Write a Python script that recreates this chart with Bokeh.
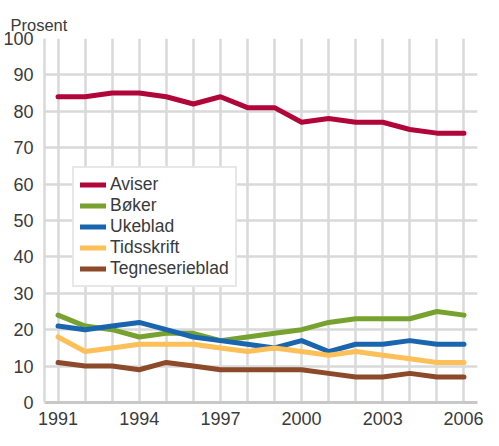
from bokeh.plotting import figure
from bokeh.models import Range1d, FixedTicker, Legend, LegendItem
from bokeh.embed import file_html
from bokeh.resources import INLINE

years = list(range(1991, 2007))
aviser = [84, 84, 85, 85, 84, 82, 84, 81, 81, 77, 78, 77, 77, 75, 74, 74]
boker = [24, 21, 20, 18, 19, 19, 17, 18, 19, 20, 22, 23, 23, 23, 25, 24]
ukeblad = [21, 20, 21, 22, 20, 18, 17, 16, 15, 17, 14, 16, 16, 17, 16, 16]
tidsskrift = [18, 14, 15, 16, 16, 16, 15, 14, 15, 14, 13, 14, 13, 12, 11, 11]
tegneserieblad = [11, 10, 10, 9, 11, 10, 9, 9, 9, 9, 8, 7, 7, 8, 7, 7]

series_names = ["Aviser", "Bøker", "Ukeblad", "Tidsskrift", "Tegneserieblad"]
series_values = [aviser, boker, ukeblad, tidsskrift, tegneserieblad]
colors = ["#b0063a", "#78a22f", "#1a66ae", "#fdbf57", "#8c4a2b"]

x_ticks = [1991, 1994, 1997, 2000, 2003, 2006]
y_ticks = list(range(0, 101, 10))

FONT = "Liberation Sans"
TXT = "#3a3a3a"
GRID = "#d9d9d9"

p = figure(width=483, height=430, output_backend="svg", toolbar_location=None,
           x_range=Range1d(1990.5, 2006.5), y_range=Range1d(0, 100),
           min_border_left=42, min_border_right=6, min_border_top=38, min_border_bottom=28)
p.outline_line_color = None
p.background_fill_color = "white"
p.border_fill_color = "white"

p.title.text = "Prosent"
p.title.align = "left"
p.title.offset = -34
p.title.text_font = FONT
p.title.text_font_size = "16.5px"
p.title.text_font_style = "normal"
p.title.text_color = TXT
p.title.standoff = 9

p.xaxis.ticker = FixedTicker(ticks=x_ticks)
p.yaxis.ticker = FixedTicker(ticks=y_ticks)
p.xgrid.ticker = FixedTicker(ticks=years)
p.ygrid.ticker = FixedTicker(ticks=y_ticks)
p.grid.grid_line_color = GRID
p.grid.grid_line_width = 2.5

for ax in (p.xaxis, p.yaxis):
    ax.major_label_text_font = FONT
    ax.major_label_text_font_size = "18px"
    ax.major_label_text_color = TXT
    ax.major_tick_line_color = None
    ax.minor_tick_line_color = None
    ax.major_label_standoff = 5

p.xaxis.axis_line_color = "#c8c8c8"
p.xaxis.axis_line_width = 3
p.yaxis.axis_line_color = GRID
p.yaxis.axis_line_width = 2.5
p.xaxis.major_label_standoff = 3

items = []
for name, vals, col in zip(series_names, series_values, colors):
    r = p.line(years, vals, line_color=col, line_width=5, line_join="round", line_cap="round")
    items.append(LegendItem(label=name, renderers=[r]))

legend = Legend(items=items, location=(28, 115))
legend.label_text_font = FONT
legend.label_text_font_size = "17.5px"
legend.label_text_color = TXT
legend.glyph_width = 26
legend.glyph_height = 19
legend.label_height = 19
legend.spacing = 0
legend.padding = 6
legend.margin = 0
legend.label_standoff = 4
legend.border_line_color = "#d0d0d0"
legend.border_line_width = 2
legend.background_fill_color = "white"
legend.background_fill_alpha = 1
p.add_layout(legend, "center")

open("out.html", "w").write(file_html(p, INLINE))
